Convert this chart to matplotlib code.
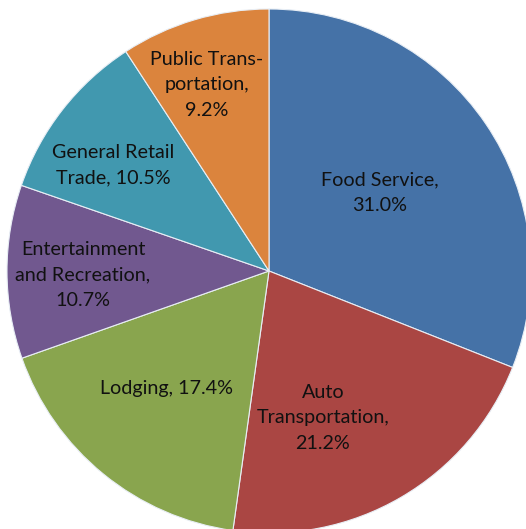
import matplotlib.pyplot as plt

labels = ["Food Service,\n31.0%", "Auto\nTransportation,\n21.2%", "Lodging, 17.4%",
          "Entertainment\nand Recreation,\n10.7%", "General Retail\nTrade, 10.5%",
          "Public Trans-\nportation,\n9.2%"]
shares = [31.0, 21.2, 17.4, 10.7, 10.5, 9.2]
colors = ["#4572A7", "#AA4643", "#89A54E", "#71588F", "#4198AF", "#DB843D"]

# label centres (pie radius = 1)
label_pos = [(0.424, 0.298), (0.206, -0.561), (-0.393, -0.450),
             (-0.710, -0.015), (-0.595, 0.405), (-0.237, 0.710)]

fig = plt.figure(figsize=(5.26, 5.29), dpi=100)
ax = fig.add_axes([0, 0, 1, 1])
ax.pie(shares, colors=colors, startangle=90, counterclock=False, radius=1.0,
       wedgeprops=dict(edgecolor="#e8eef5", linewidth=0.8))
for lab, (x, y) in zip(labels, label_pos):
    ax.text(x, y, lab, ha="center", va="center", fontsize=14.2,
            family="Lato", color="#111111", linespacing=1.62)

ax.set_xlim(-269/262, 257/262)
ax.set_ylim(-258/262, 271/262)
ax.set_aspect("auto")
ax.axis("off")
fig.savefig("out.png", dpi=100)
